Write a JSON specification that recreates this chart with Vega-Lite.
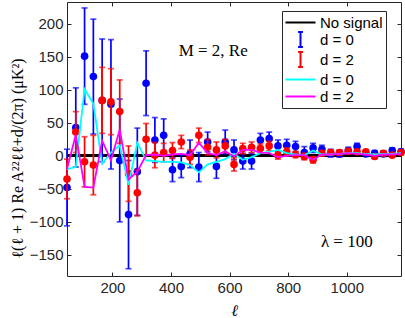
{
  "$schema": "https://vega.github.io/schema/vega-lite/v6.json",
  "width": 334,
  "height": 274,
  "autosize": {"type": "none"},
  "padding": {"left": 67, "top": 2, "right": 4, "bottom": 42},
  "background": "white",
  "config": {
    "view": {"stroke": "#262626", "strokeWidth": 1},
    "axis": {
      "grid": false,
      "domain": false,
      "labelFont": "Liberation Sans",
      "labelFontSize": 15,
      "labelColor": "#262626",
      "tickColor": "#262626",
      "tickSize": -4,
      "tickWidth": 1,
      "titleFont": "Liberation Serif",
      "titleFontSize": 16,
      "titleFontWeight": "normal",
      "titleColor": "#000000"
    }
  },
  "datasets": {
    "pts": [
      {"l": 45, "b": -48, "be": 58, "r": -35, "re": 30, "c": -20, "m": -20},
      {"l": 75, "b": 43, "be": 60, "r": 36, "re": 31, "c": -17, "m": 32},
      {"l": 105, "b": 151, "be": 73, "r": -9, "re": 38, "c": 101, "m": -47},
      {"l": 135, "b": 120, "be": 87, "r": -14, "re": 45, "c": 79, "m": -48},
      {"l": 165, "b": 84, "be": 93, "r": 84, "re": 50, "c": -12, "m": 23},
      {"l": 195, "b": 78, "be": 98, "r": 82, "re": 50, "c": 5, "m": -7},
      {"l": 225, "b": -7, "be": 93, "r": 67, "re": 48, "c": 16, "m": 40},
      {"l": 255, "b": -89, "be": 82, "r": -27, "re": 42, "c": -44, "m": -36},
      {"l": 285, "b": -24, "be": 66, "r": -56, "re": 35, "c": 20, "m": -24},
      {"l": 315, "b": 110, "be": 49, "r": 25, "re": 24, "c": -7, "m": 1},
      {"l": 345, "b": 24, "be": 34, "r": 1, "re": 19, "c": -8, "m": 2},
      {"l": 375, "b": 31, "be": 25, "r": 5, "re": 14, "c": -9, "m": 0},
      {"l": 405, "b": -21, "be": 18, "r": 8, "re": 12, "c": -9, "m": 2},
      {"l": 435, "b": -16, "be": 17, "r": 21, "re": 10, "c": -10, "m": 3},
      {"l": 465, "b": 3, "be": 21, "r": -2, "re": 11, "c": -14, "m": 1},
      {"l": 495, "b": -17, "be": 22, "r": 31, "re": 11, "c": -25, "m": 20},
      {"l": 525, "b": 21, "be": 15, "r": 13, "re": 12, "c": -13, "m": 4},
      {"l": 555, "b": -16, "be": 18, "r": 9, "re": 12, "c": -9, "m": 1},
      {"l": 585, "b": 21, "be": 18, "r": 15, "re": 10, "c": -5, "m": 7},
      {"l": 615, "b": 9, "be": 15, "r": -13, "re": 10, "c": 3, "m": -1},
      {"l": 645, "b": -8, "be": 12, "r": 11, "re": 8, "c": -6, "m": 9},
      {"l": 675, "b": -8, "be": 12, "r": 13, "re": 8, "c": -2, "m": 9},
      {"l": 705, "b": 24, "be": 10, "r": 11, "re": 7, "c": 4, "m": 5},
      {"l": 735, "b": 26, "be": 10, "r": 15, "re": 7, "c": 6, "m": 4},
      {"l": 765, "b": 15, "be": 9, "r": 1, "re": 6, "c": 9, "m": -2},
      {"l": 795, "b": 16, "be": 9, "r": 6, "re": 6, "c": 4, "m": 0},
      {"l": 825, "b": 14, "be": 8, "r": 2, "re": 5, "c": 2, "m": 1},
      {"l": 855, "b": 5, "be": 9, "r": -1, "re": 5, "c": 1, "m": 1},
      {"l": 885, "b": 12, "be": 7, "r": -6, "re": 5, "c": 8, "m": -6},
      {"l": 915, "b": 10, "be": 6, "r": 4, "re": 4, "c": 2, "m": 2},
      {"l": 945, "b": 4, "be": 6, "r": 5, "re": 4, "c": 2, "m": 2},
      {"l": 975, "b": 3, "be": 5, "r": 5, "re": 4, "c": 3, "m": 3},
      {"l": 1005, "b": 8, "be": 5, "r": 7, "re": 4, "c": 4, "m": 4},
      {"l": 1035, "b": 14, "be": 5, "r": 6, "re": 3, "c": 4, "m": 3},
      {"l": 1065, "b": 3, "be": 4, "r": 6, "re": 3, "c": 3, "m": 2},
      {"l": 1095, "b": 4, "be": 4, "r": -1, "re": 3, "c": 2, "m": 0},
      {"l": 1125, "b": 3, "be": 4, "r": 4, "re": 3, "c": 3, "m": 2},
      {"l": 1155, "b": 8, "be": 4, "r": 1, "re": 3, "c": 3, "m": 2},
      {"l": 1185, "b": 6, "be": 4, "r": 5, "re": 3, "c": 4, "m": 3}
    ],
    "notes": [
      {"l": 544, "v": 159, "t": "M = 2, Re"},
      {"l": 1000, "v": -130, "t": "λ = 100"}
    ],
    "keys": [{"k": "a"}, {"k": "b"}, {"k": "c"}, {"k": "d"}, {"k": "e"}]
  },
  "resolve": {"axis": {"x": "independent", "y": "independent"}},
  "layer": [
    {
      "data": {"name": "pts"},
      "mark": {"type": "rule", "color": "#000000", "strokeWidth": 2},
      "encoding": {
        "y": {"datum": 0, "type": "quantitative", "scale": {"domain": [-182, 233], "nice": false, "zero": false}, "axis": null}
      }
    },
    {
      "data": {"name": "pts"},
      "mark": {"type": "errorbar", "color": "#0000ff", "thickness": 1.7, "ticks": {"size": 6, "thickness": 1.7, "color": "#0000ff"}},
      "encoding": {
        "x": {"field": "l", "type": "quantitative", "scale": {"domain": [45, 1185], "nice": false, "zero": false}, "axis": null},
        "y": {"field": "b", "type": "quantitative", "scale": {"domain": [-182, 233], "nice": false, "zero": false}, "axis": null},
        "yError": {"field": "be"}
      }
    },
    {
      "data": {"name": "pts"},
      "mark": {"type": "point", "filled": true, "color": "#0000ff", "size": 58, "opacity": 1},
      "encoding": {
        "x": {"field": "l", "type": "quantitative", "scale": {"domain": [45, 1185], "nice": false, "zero": false},
              "axis": {"orient": "bottom", "values": [200, 400, 600, 800, 1000], "format": "d", "title": "ℓ", "titleFontStyle": "italic", "labelPadding": 8, "titlePadding": 7}},
        "y": {"field": "b", "type": "quantitative", "scale": {"domain": [-182, 233], "nice": false, "zero": false},
              "axis": {"orient": "left", "values": [-150, -100, -50, 0, 50, 100, 150, 200], "title": "ℓ(ℓ + 1) Re A²²ℓℓ+d/(2π) (μK²)", "titleY": 156, "labelPadding": 8, "titlePadding": 4}}
      }
    },
    {
      "data": {"name": "pts"},
      "mark": {"type": "errorbar", "color": "#ff0000", "thickness": 1.7, "ticks": {"size": 6, "thickness": 1.7, "color": "#ff0000"}},
      "encoding": {
        "x": {"field": "l", "type": "quantitative", "scale": {"domain": [45, 1185], "nice": false, "zero": false}, "axis": null},
        "y": {"field": "r", "type": "quantitative", "scale": {"domain": [-182, 233], "nice": false, "zero": false}, "axis": null},
        "yError": {"field": "re"}
      }
    },
    {
      "data": {"name": "pts"},
      "mark": {"type": "point", "filled": true, "color": "#ff0000", "size": 58, "opacity": 1},
      "encoding": {
        "x": {"field": "l", "type": "quantitative", "scale": {"domain": [45, 1185], "nice": false, "zero": false},
              "axis": {"orient": "top", "values": [200, 400, 600, 800, 1000], "labels": false, "title": null}},
        "y": {"field": "r", "type": "quantitative", "scale": {"domain": [-182, 233], "nice": false, "zero": false},
              "axis": {"orient": "right", "values": [-150, -100, -50, 0, 50, 100, 150, 200], "labels": false, "title": null}}
      }
    },
    {
      "data": {"name": "pts"},
      "mark": {"type": "line", "color": "#00ffff", "strokeWidth": 1.8},
      "encoding": {
        "x": {"field": "l", "type": "quantitative", "scale": {"domain": [45, 1185], "nice": false, "zero": false}, "axis": null},
        "y": {"field": "c", "type": "quantitative", "scale": {"domain": [-182, 233], "nice": false, "zero": false}, "axis": null}
      }
    },
    {
      "data": {"name": "pts"},
      "mark": {"type": "line", "color": "#ff00ff", "strokeWidth": 1.8},
      "encoding": {
        "x": {"field": "l", "type": "quantitative", "scale": {"domain": [45, 1185], "nice": false, "zero": false}, "axis": null},
        "y": {"field": "m", "type": "quantitative", "scale": {"domain": [-182, 233], "nice": false, "zero": false}, "axis": null}
      }
    },
    {
      "data": {"name": "notes"},
      "mark": {"type": "text", "font": "Liberation Serif", "fontSize": 17, "color": "#000000", "align": "center", "baseline": "middle"},
      "encoding": {
        "x": {"field": "l", "type": "quantitative", "scale": {"domain": [45, 1185], "nice": false, "zero": false}, "axis": null},
        "y": {"field": "v", "type": "quantitative", "scale": {"domain": [-182, 233], "nice": false, "zero": false}, "axis": null},
        "text": {"field": "t"}
      }
    },
    {
      "data": {"name": "keys"},
      "mark": {"type": "point", "filled": false, "opacity": 0, "strokeWidth": 2},
      "encoding": {
        "color": {
          "field": "k", "type": "nominal",
          "scale": {"domain": ["a", "b", "c", "d", "e"], "range": ["#000000", "#0000ff", "#ff0000", "#00ffff", "#ff00ff"]},
          "legend": {
            "orient": "none", "legendX": 215, "legendY": 9, "title": null,
            "strokeColor": "#262626", "fillColor": "white", "padding": 3,
            "symbolSize": 225, "symbolStrokeWidth": 2, "symbolOffset": 7, "labelOffset": 11,
            "labelFont": "Liberation Sans", "labelFontSize": 15, "labelColor": "#000000", "rowPadding": -5,
            "labelExpr": "datum.label == 'a' ? 'No signal' : (datum.label == 'b' || datum.label == 'd') ? 'd = 0' : 'd = 2'"
          }
        },
        "shape": {
          "field": "k", "type": "nominal",
          "scale": {"domain": ["a", "b", "c", "d", "e"], "range": ["M-2,0H2", "M0,-1V1M-0.32,-1H0.32M-0.32,1H0.32", "M0,-1V1M-0.32,-1H0.32M-0.32,1H0.32", "M-2,0H2", "M-2,0H2"]}
        }
      }
    }
  ]
}
